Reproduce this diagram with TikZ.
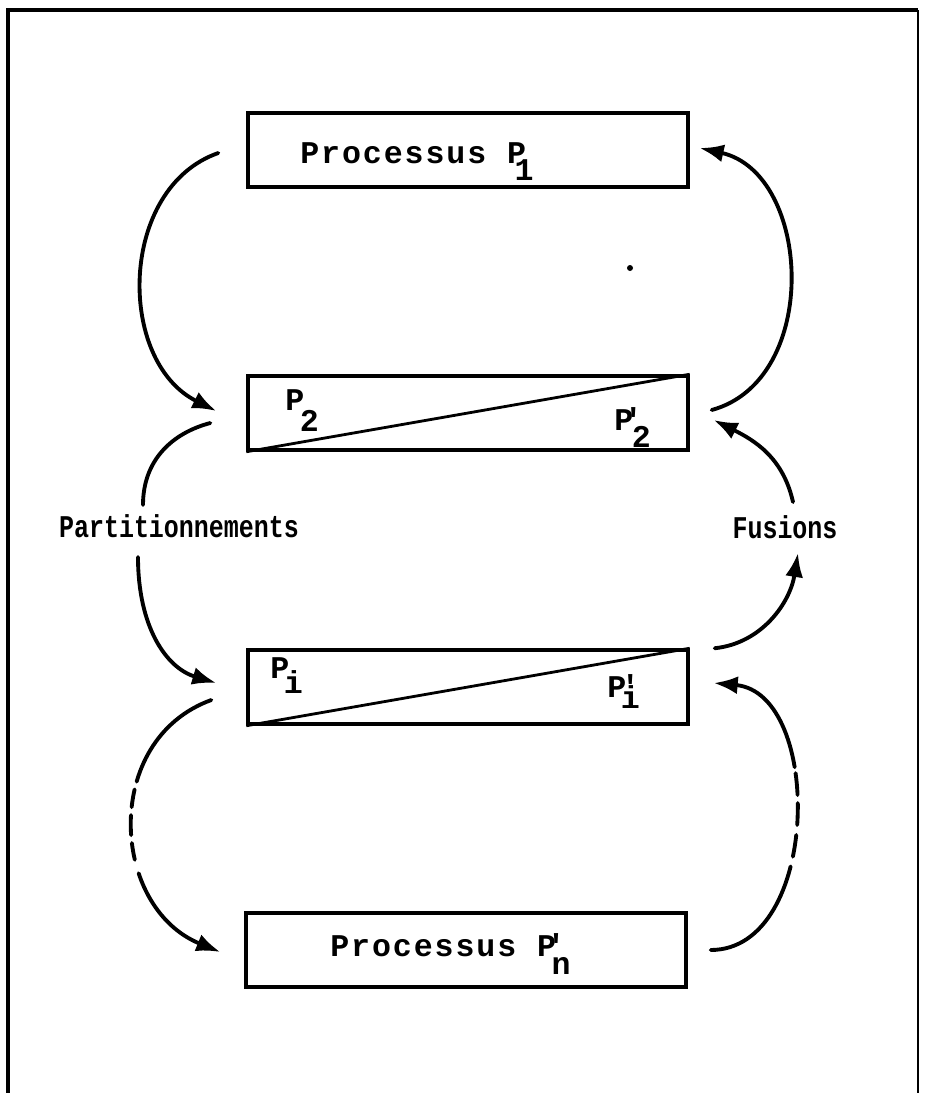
\documentclass[tikz,border=0pt]{standalone}
\usepackage{fontspec}
\usetikzlibrary{arrows.meta}
\newfontfamily\printfont{Liberation Mono}
\newfontfamily\narrowfont{Liberation Mono}[FakeStretch=0.79]
\newfontfamily\spacedfont{Liberation Mono}[LetterSpace=6]
\newcommand{\lowered}[2][0.34cm]{\raisebox{-#1}{#2}}

\begin{document}
\begin{tikzpicture}[x=0.02cm, y=-0.02cm,
    procbox/.style={draw, line width=2pt, minimum width=8.8cm, minimum height=1.48cm, inner sep=0pt},
    flow/.style={line width=2.2pt, line cap=round, -{Latex[length=0.48cm, width=0.36cm]}},
    plain/.style={line width=2.2pt, line cap=round},
    boxlabel/.style={font=\spacedfont\bfseries\fontsize{18}{20}\selectfont, inner sep=0pt, anchor=base west},
    partlabel/.style={font=\printfont\bfseries\fontsize{18}{20}\selectfont, inner sep=0pt, anchor=base west},
    sidelabel/.style={font=\narrowfont\bfseries\fontsize{18}{20}\selectfont, inner sep=0pt, anchor=base}]
    \useasboundingbox (0,0) rectangle (925,1093);

    % Frame
    \draw[line width=1.8pt] (8,1093) -- (8,10) -- (918,10);
    \draw[line width=0.8pt] (918,10) -- (918,1093);

    % Boxes
    \node[procbox] (proc1) at (468,150) {};
    \node[procbox] (split2) at (468,413) {};
    \node[procbox] (spliti) at (468,687) {};
    \node[procbox] (procn) at (466,950) {};
    \draw[line width=1.6pt] (split2.south west) -- (split2.north east);
    \draw[line width=1.6pt] (spliti.south west) -- (spliti.north east);

    % Labels
    \node[boxlabel] (lab1) at (300,163) {Processus P\kern-0.23cm\lowered{1}};
    \node[boxlabel] (labn) at (330,956) {Processus P\kern-0.19cm'\kern-0.28cm\lowered[0.36cm]{n}};
    \node[partlabel] (p2) at (285,410) {P\kern-0.09cm\lowered[0.42cm]{2}};
    \node[partlabel] (q2) at (614,430) {P\kern-0.19cm'\kern-0.22cm\lowered{2}};
    \node[partlabel] (pi) at (270,678) {P\kern-0.11cm\lowered[0.3cm]{i}};
    \node[partlabel] (qi) at (607,697) {P\kern-0.11cm'\kern-0.38cm\lowered[0.22cm]{i}};
    \node[sidelabel] (partition) at (179,537) {Partitionnements};
    \node[sidelabel] (fusion) at (785,538) {Fusions};
    \fill (630,268) circle (0.06cm);

    % Left arrows
    \draw[flow] ([shift={(-28,3)}]proc1.west) .. controls +(-100,35) and +(-100,-50) .. ([shift={(-30,-2)}]split2.west);
    \draw[plain] ([shift={(-36,10)}]split2.west) .. controls +(-38,10) and +(0,-45) .. ([shift={(-36,-32)}]partition.base);
    \draw[flow] ([shift={(-41,20)}]partition.base) .. controls +(0,70) and +(-50,-15) .. ([shift={(-30,-4)}]spliti.west);
    \draw[flow, dash pattern=on 2.3cm off 0.16cm on 0.36cm off 0.16cm on 0.4cm off 0.16cm on 0.34cm off 0.28cm on 8cm]
        ([shift={(-35,13)}]spliti.west) .. controls +(-110,40) and +(-110,-45) .. ([shift={(-24,2)}]procn.west);

    % Right arrows
    \draw[flow] ([shift={(22,-3)}]split2.east) .. controls +(110,-30) and +(112,25) .. ([shift={(10,-2)}]proc1.east);
    \draw[flow] ([shift={(8,-36)}]fusion.base) .. controls +(-10,-45) and +(40,20) .. ([shift={(24,7)}]split2.east);
    \draw[flow] ([shift={(25,0)}]spliti.north east) .. controls +(47,-5) and +(-8,50) .. ([shift={(13,15)}]fusion.base);
    \draw[flow, dash pattern=on 2.5cm off 0.2cm on 0.44cm off 0.2cm on 0.44cm off 0.16cm on 0.44cm off 0.12cm on 8cm]
        ([shift={(23,0)}]procn.east) .. controls +(110,0) and +(110,10) .. ([shift={(24,-4)}]spliti.east);
\end{tikzpicture}
\end{document}
